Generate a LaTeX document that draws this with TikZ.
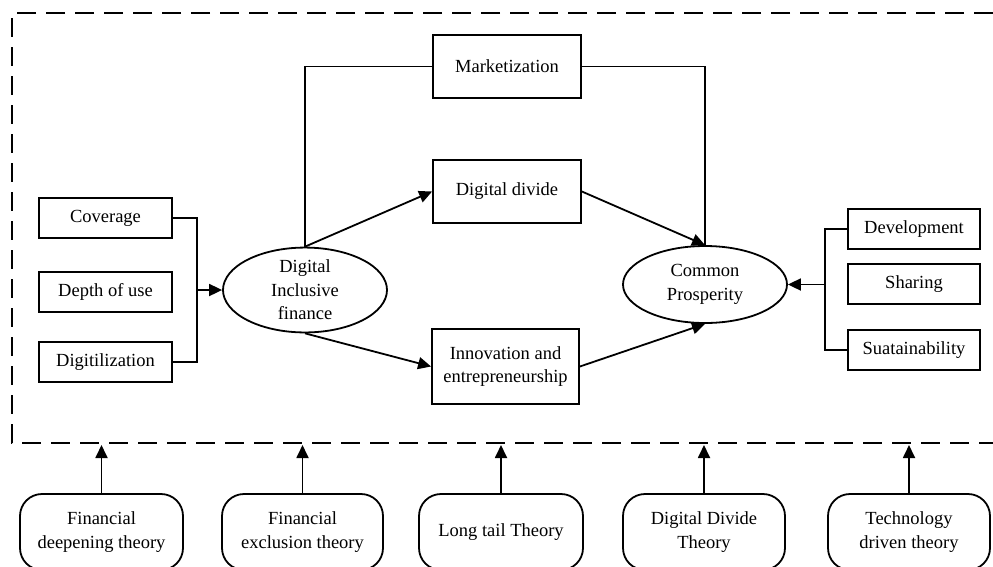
\documentclass[tikz,border=0pt]{standalone}
\usepackage{fontspec}
\setmainfont{Liberation Serif}
\usetikzlibrary{arrows.meta,shapes.geometric}
\begin{document}
\begin{tikzpicture}[x=1pt,y=-1pt,
  every node/.style={font=\fontsize{18.5}{23.5}\selectfont, align=center, inner sep=2pt},
  box/.style={draw, line width=1.8pt, rectangle},
  ell/.style={draw, line width=1.8pt, ellipse},
  theory/.style={draw, line width=1.8pt, rectangle, rounded corners=22pt, minimum height=76pt},
  conn/.style={line width=1.8pt},
  arr/.style={line width=1.8pt, -{Triangle[length=13pt,width=12pt]}},
  frame/.style={line width=1.8pt, dash pattern=on 19pt off 10pt}
]
\clip (0,0) rectangle (993,566);
\fill[white] (0,0) rectangle (993,566);

% dashed frame
\draw[frame] (993,13) -- (12,13) -- (12,443) -- (993,443);

% middle boxes
\node[box, minimum width=148pt, minimum height=63pt] (mkt) at (507,66.5) {Marketization};
\node[box, minimum width=148pt, minimum height=63pt] (dd) at (507,191.5) {Digital divide};
\node[box, minimum width=147pt, minimum height=75pt] (inn) at (505.5,366.5) {Innovation and\\entrepreneurship};

% ellipses
\node[ell, minimum width=164pt, minimum height=76pt, inner sep=0pt] (dif) at (305,290) {Digital\\Inclusive\\finance};
\node[ell, minimum width=164pt, minimum height=77pt, inner sep=0pt] (cp) at (705,284.5) {Common\\Prosperity};

% left boxes
\node[box, minimum width=133pt, minimum height=40pt] (cov) at (105.5,218) {Coverage};
\node[box, minimum width=133pt, minimum height=40pt] (dep) at (105.5,292) {Depth of use};
\node[box, minimum width=133pt, minimum height=40pt] (dig) at (105.5,362) {Digitilization};

% right boxes
\node[box, minimum width=132pt, minimum height=40pt] (dev) at (914,229) {Development};
\node[box, minimum width=132pt, minimum height=40pt] (sha) at (914,284) {Sharing};
\node[box, minimum width=132pt, minimum height=40pt] (sua) at (914,350) {Suatainability};

% theory boxes
\node[theory, minimum width=163pt] (t1) at (101.5,532) {Financial\\deepening theory};
\node[theory, minimum width=161pt] (t2) at (302.5,532) {Financial\\exclusion theory};
\node[theory, minimum width=164pt] (t3) at (501,532) {Long tail Theory};
\node[theory, minimum width=162pt] (t4) at (704,532) {Digital Divide\\Theory};
\node[theory, minimum width=162pt] (t5) at (909,532) {Technology\\driven theory};

% bracket coordinates
\coordinate (bl) at (197,290);
\coordinate (br) at (825,284.5);

% left bracket
\draw[conn] (cov.east) -| (bl) |- (dig.east);
\draw[arr] (bl) -- (dif.west);

% right bracket
\draw[conn] (dev.west) -| (br) |- (sua.west);
\draw[arr] (br) -- (cp.east);

% marketization path
\draw[conn] (dif.north) |- (mkt.west);
\draw[conn] (mkt.east) -| (cp.north);

% diagonal arrows
\draw[arr] (dif.north) -- (dd.west);
\draw[arr] (dif.south) -- (inn.west);
\draw[arr] (dd.east) -- (cp.north);
\draw[arr] (inn.east) -- (cp.south);

% theory arrows
\foreach \t in {t1,t2,t3,t4,t5}{
  \coordinate (\t top) at (\t.north |- 0,445);
  \draw[arr] (\t.north) -- (\t top);
}
\end{tikzpicture}
\end{document}
